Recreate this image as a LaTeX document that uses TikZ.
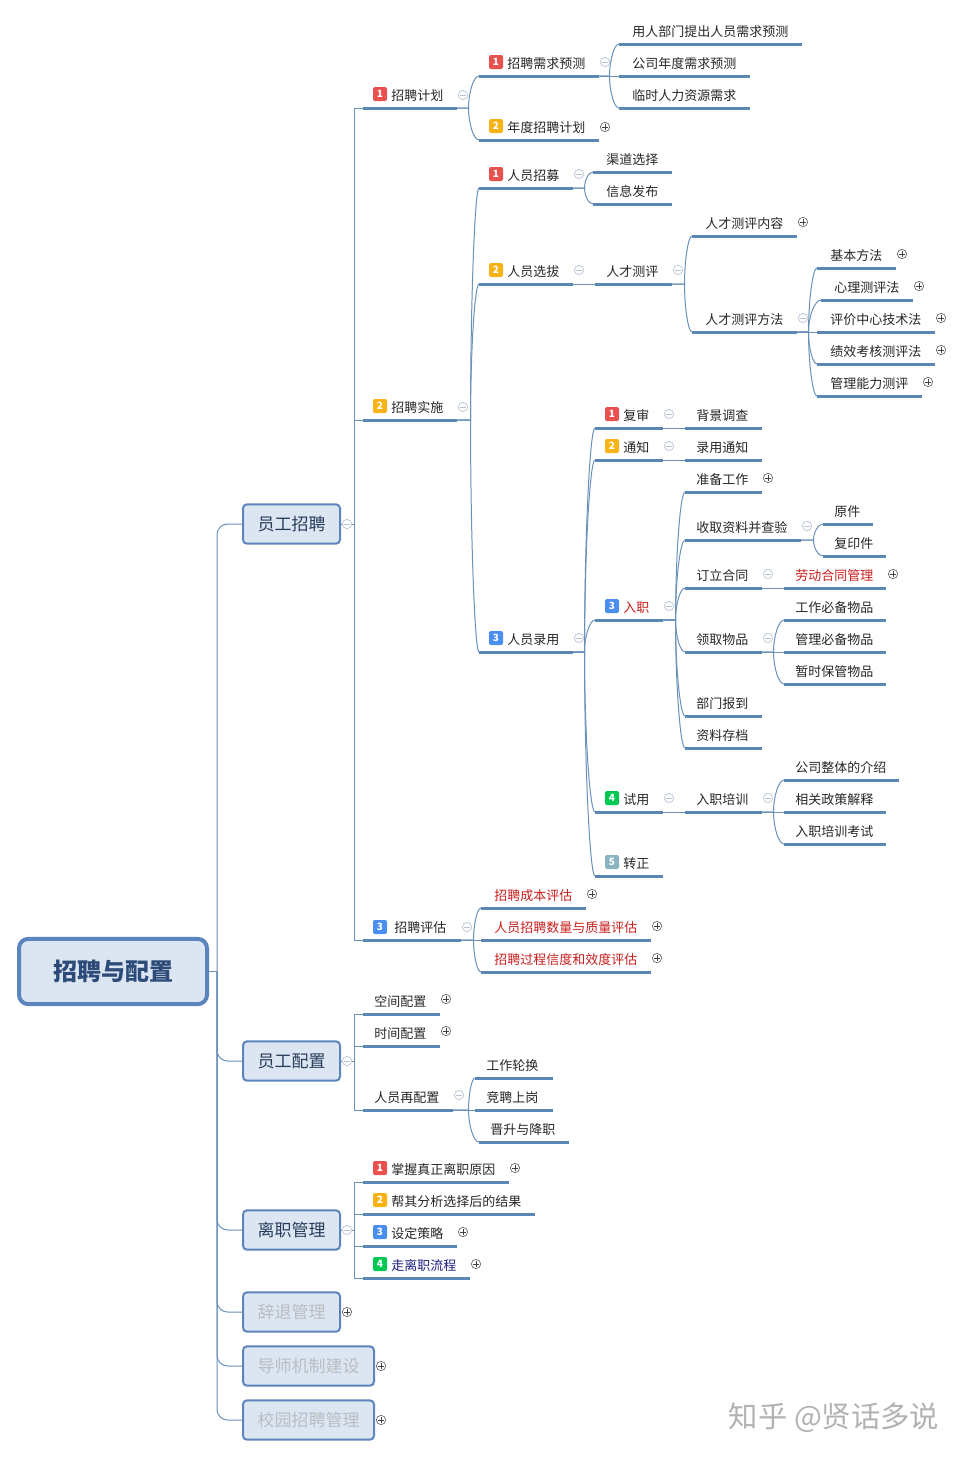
\documentclass[tikz,border=0pt]{standalone}
\usetikzlibrary{calc}
\usepackage{xcolor}
\usepackage{fontspec}
\setmainfont{Noto Sans CJK SC}
\newdimen\unitpx
\unitpx=0.75pt
\definecolor{barblue}{RGB}{91,135,181}
\definecolor{wireblue}{RGB}{105,145,185}
\definecolor{boxfill}{RGB}{220,230,242}
\definecolor{boxline}{RGB}{92,133,190}
\definecolor{titleblue}{RGB}{45,75,120}
\definecolor{subblue}{RGB}{40,60,90}
\definecolor{fadetext}{RGB}{186,189,194}
\definecolor{bred}{RGB}{233,81,79}
\definecolor{borange}{RGB}{248,180,23}
\definecolor{bblue}{RGB}{74,142,240}
\definecolor{bgreen}{RGB}{0,200,83}
\definecolor{bteal}{RGB}{138,180,192}
\definecolor{redtext}{RGB}{200,30,30}
\definecolor{navytext}{RGB}{30,30,130}
\definecolor{minusgray}{RGB}{185,195,212}
\tikzset{
  wire/.style={draw=wireblue,line width=0.75pt},
  barline/.style={draw=barblue,line width=2.25pt},
  branch/.style={to path={-- ++(#1,0) coordinate (j) .. controls ($(j)!0.5!(j |- \tikztotarget)$) and ($(j |- \tikztotarget)!0.5!(\tikztotarget)$) .. (\tikztotarget)}},
  topic/.style 2 args={anchor=south west,inner sep=0pt,text width=#1*0.75pt,minimum height=19.5pt,
    text height=0.95em,text depth=0.05em,align=left,text=black!85,font=\fontsize{9.75}{11}\selectfont,
    execute at begin node={\hspace*{#2\unitpx}},
    append after command={(\tikzlastnode.south west) edge[barline] (\tikzlastnode.south east)}},
  badge/.style={rounded corners=1.5pt,fill=#1,text=white,minimum size=10.5pt,inner sep=0pt,
    font=\fontsize{7.5}{8}\selectfont\bfseries},
  rootbox/.style={draw=boxline,fill=boxfill,line width=3pt,rounded corners=7pt,minimum width=141pt,minimum height=49pt,
    text=titleblue,font=\fontsize{18}{20}\selectfont\bfseries},
  mainbox/.style={draw=boxline,fill=boxfill,line width=1.5pt,rounded corners=3pt,minimum width=#1*0.75pt,minimum height=29.5pt,
    inner sep=0pt,text=subblue,font=\fontsize{12.75}{14}\selectfont},
  minusmark/.style={circle,draw=minusgray,fill=white,line width=0.5pt,minimum size=7pt,inner sep=0pt,
    path picture={\draw[minusgray] ([xshift=-2.2pt]path picture bounding box.center) -- ([xshift=2.2pt]path picture bounding box.center);}},
  plusmark/.style={circle,draw=black!60,fill=white,line width=0.5pt,minimum size=7pt,inner sep=0pt,
    path picture={\draw[black!75] ([xshift=-2.2pt]path picture bounding box.center) -- ([xshift=2.2pt]path picture bounding box.center)
      ([yshift=-2.2pt]path picture bounding box.center) -- ([yshift=2.2pt]path picture bounding box.center);}},
}
\begin{document}
\begin{tikzpicture}[x=0.75pt,y=0.75pt,yscale=-1,xscale=1]
\useasboundingbox (0,0) rectangle (962,1457);

% Main boxes
\node[rootbox] (root) at (113,971.5) {招聘与配置};
\node[mainbox=97] (yuangong) at (291.5,524) {员工招聘};
\node[mainbox=97] (peizhi) at (291.5,1061) {员工配置};
\node[mainbox=97] (lizhi) at (291.5,1230) {离职管理};
\node[mainbox=97,text=fadetext] (citui) at (291.5,1312) {辞退管理};
\node[mainbox=131,text=fadetext] (daoshi) at (308.5,1366) {导师机制建设};
\node[mainbox=131,text=fadetext] (xiaoyuan) at (308.5,1420) {校园招聘管理};

% Second level
\node[topic={93}{28}] (jihua) at (363,108) {招聘计划};
\node[topic={93}{28}] (shishi) at (363,420) {招聘实施};
\node[topic={97}{31}] (pinggu) at (363,940) {招聘评估};
\node[topic={76}{11}] (kongjian) at (363,1014) {空间配置};
\node[topic={76}{11}] (shijian) at (363,1046) {时间配置};
\node[topic={89}{11}] (zaipeizhi) at (363,1110) {人员再配置};
\node[topic={145}{28}] (yuanyin) at (363,1182) {掌握真正离职原因};
\node[topic={171}{28}] (jieguo) at (363,1214) {帮其分析选择后的结果};
\node[topic={93}{28}] (celue) at (363,1246) {设定策略};
\node[topic={106}{28},text=navytext] (liucheng) at (363,1278) {走离职流程};

% Third level
\node[topic={119}{28}] (xuqiu) at (479,76) {招聘需求预测};
\node[topic={119}{28}] (niandu) at (479,140) {年度招聘计划};
\node[topic={93}{28}] (zhaomu) at (479,188) {人员招募};
\node[topic={93}{28}] (xuanba) at (479,284) {人员选拔};
\node[topic={93}{28}] (luyong) at (479,652) {人员录用};
\node[topic={104}{13},text=redtext] (chengben) at (481,908) {招聘成本评估};
\node[topic={169}{13},text=redtext] (shuliang) at (481,940) {人员招聘数量与质量评估};
\node[topic={169}{13},text=redtext] (xindu) at (481,972) {招聘过程信度和效度评估};
\node[topic={77}{11}] (lunhuan) at (475,1078) {工作轮换};
\node[topic={77}{11}] (jingpin) at (475,1110) {竞聘上岗};
\node[topic={89}{11}] (jiangzhi) at (479,1142) {晋升与降职};

% Fourth level
\node[topic={182}{13}] (bumen) at (619,44) {用人部门提出人员需求预测};
\node[topic={130}{13}] (gongsi) at (619,76) {公司年度需求预测};
\node[topic={130}{13}] (linshi) at (619,108) {临时人力资源需求};
\node[topic={78}{13}] (qudao) at (593,172) {渠道选择};
\node[topic={78}{13}] (xinxi) at (593,204) {信息发布};
\node[topic={76}{11}] (ceping) at (595,284) {人才测评};
\node[topic={67}{28}] (fushen) at (595,428) {复审};
\node[topic={67}{28}] (tongzhi) at (595,460) {通知};
\node[topic={67}{28},text=redtext] (ruzhi) at (595,620) {入职};
\node[topic={67}{28}] (shiyong) at (595,812) {试用};
\node[topic={67}{28}] (zhuanzheng) at (595,876) {转正};

% Fifth level
\node[topic={104}{13}] (neirong) at (692,236) {人才测评内容};
\node[topic={104}{13}] (fangfa) at (692,332) {人才测评方法};
\node[topic={76}{11}] (beijing) at (685,428) {背景调查};
\node[topic={76}{11}] (luyongtz) at (685,460) {录用通知};
\node[topic={76}{11}] (zhunbei) at (685,492) {准备工作};
\node[topic={115}{11}] (ziliao) at (685,540) {收取资料并查验};
\node[topic={76}{11}] (hetong) at (685,588) {订立合同};
\node[topic={76}{11}] (wupin) at (685,652) {领取物品};
\node[topic={76}{11}] (baodao) at (685,716) {部门报到};
\node[topic={76}{11}] (cundang) at (685,748) {资料存档};
\node[topic={76}{11}] (peixun) at (685,812) {入职培训};

% Sixth level
\node[topic={78}{13}] (jiben) at (817,268) {基本方法};
\node[topic={91}{13}] (xinli) at (821,300) {心理测评法};
\node[topic={117}{13}] (zhongxin) at (817,332) {评价中心技术法};
\node[topic={117}{13}] (jixiao) at (817,364) {绩效考核测评法};
\node[topic={104}{13}] (nengli) at (817,396) {管理能力测评};
\node[topic={49}{11}] (yuanjian) at (823,524) {原件};
\node[topic={62}{11}] (fuyin) at (823,556) {复印件};
\node[topic={101}{11},text=redtext] (laodong) at (784,588) {劳动合同管理};
\node[topic={101}{11}] (bibei) at (784,620) {工作必备物品};
\node[topic={101}{11}] (guanli) at (784,652) {管理必备物品};
\node[topic={101}{11}] (baoguan) at (784,684) {暂时保管物品};
\node[topic={114}{11}] (zhengti) at (784,780) {公司整体的介绍};
\node[topic={101}{11}] (zhengce) at (784,812) {相关政策解释};
\node[topic={101}{11}] (kaoshi) at (784,844) {入职培训考试};

% Root connectors
\coordinate (rootj) at (217,971.5);
\draw[wire] (root.east) -- (rootj);
\draw[wire,rounded corners=8pt] (rootj) |- (yuangong.west);
\draw[wire,rounded corners=8pt] (rootj) |- (peizhi.west);
\draw[wire,rounded corners=8pt] (rootj) |- (lizhi.west);
\draw[wire,rounded corners=8pt] (rootj) |- (citui.west);
\draw[wire,rounded corners=8pt] (rootj) |- (daoshi.west);
\draw[wire,rounded corners=8pt] (rootj) |- (xiaoyuan.west);

% Square connectors
\draw[wire] (yuangong.east) -- ++(13,0) |- (jihua.south west);
\draw[wire] (yuangong.east) -- ++(13,0) |- (shishi.south west);
\draw[wire] (yuangong.east) -- ++(13,0) |- (pinggu.south west);
\draw[wire] (peizhi.east) -- ++(13,0) |- (kongjian.south west);
\draw[wire] (peizhi.east) -- ++(13,0) |- (shijian.south west);
\draw[wire] (peizhi.east) -- ++(13,0) |- (zaipeizhi.south west);
\draw[wire] (lizhi.east) -- ++(13,0) |- (yuanyin.south west);
\draw[wire] (lizhi.east) -- ++(13,0) |- (jieguo.south west);
\draw[wire] (lizhi.east) -- ++(13,0) |- (celue.south west);
\draw[wire] (lizhi.east) -- ++(13,0) |- (liucheng.south west);

% Curved connectors
\draw[wire] (jihua.south east) to[branch=12] (xuqiu.south west);
\draw[wire] (jihua.south east) to[branch=12] (niandu.south west);
\draw[wire] (xuqiu.south east) to[branch=11] (bumen.south west);
\draw[wire] (xuqiu.south east) -- (gongsi.south west);
\draw[wire] (xuqiu.south east) to[branch=11] (linshi.south west);
\draw[wire] (shishi.south east) to[branch=14] (zhaomu.south west);
\draw[wire] (shishi.south east) to[branch=14] (xuanba.south west);
\draw[wire] (shishi.south east) to[branch=14] (luyong.south west);
\draw[wire] (zhaomu.south east) to[branch=12] (qudao.south west);
\draw[wire] (zhaomu.south east) to[branch=12] (xinxi.south west);
\draw[wire] (xuanba.south east) -- (ceping.south west);
\draw[wire] (ceping.south east) to[branch=13] (neirong.south west);
\draw[wire] (ceping.south east) to[branch=13] (fangfa.south west);
\draw[wire] (fangfa.south east) to[branch=12] (jiben.south west);
\draw[wire] (fangfa.south east) to[branch=12] (xinli.south west);
\draw[wire] (fangfa.south east) -- (zhongxin.south west);
\draw[wire] (fangfa.south east) to[branch=12] (jixiao.south west);
\draw[wire] (fangfa.south east) to[branch=12] (nengli.south west);
\draw[wire] (luyong.south east) to[branch=12] (fushen.south west);
\draw[wire] (luyong.south east) to[branch=12] (tongzhi.south west);
\draw[wire] (luyong.south east) to[branch=12] (ruzhi.south west);
\draw[wire] (luyong.south east) to[branch=12] (shiyong.south west);
\draw[wire] (luyong.south east) to[branch=12] (zhuanzheng.south west);
\draw[wire] (fushen.south east) -- (beijing.south west);
\draw[wire] (tongzhi.south east) -- (luyongtz.south west);
\draw[wire] (ruzhi.south east) to[branch=13] (zhunbei.south west);
\draw[wire] (ruzhi.south east) to[branch=13] (ziliao.south west);
\draw[wire] (ruzhi.south east) to[branch=13] (hetong.south west);
\draw[wire] (ruzhi.south east) to[branch=13] (wupin.south west);
\draw[wire] (ruzhi.south east) to[branch=13] (baodao.south west);
\draw[wire] (ruzhi.south east) to[branch=13] (cundang.south west);
\draw[wire] (ziliao.south east) to[branch=13] (yuanjian.south west);
\draw[wire] (ziliao.south east) to[branch=13] (fuyin.south west);
\draw[wire] (hetong.south east) -- (laodong.south west);
\draw[wire] (wupin.south east) to[branch=12] (bibei.south west);
\draw[wire] (wupin.south east) -- (guanli.south west);
\draw[wire] (wupin.south east) to[branch=12] (baoguan.south west);
\draw[wire] (shiyong.south east) -- (peixun.south west);
\draw[wire] (peixun.south east) to[branch=12] (zhengti.south west);
\draw[wire] (peixun.south east) -- (zhengce.south west);
\draw[wire] (peixun.south east) to[branch=12] (kaoshi.south west);
\draw[wire] (pinggu.south east) to[branch=13] (chengben.south west);
\draw[wire] (pinggu.south east) -- (shuliang.south west);
\draw[wire] (pinggu.south east) to[branch=13] (xindu.south west);
\draw[wire] (zaipeizhi.south east) to[branch=16] (lunhuan.south west);
\draw[wire] (zaipeizhi.south east) -- (jingpin.south west);
\draw[wire] (zaipeizhi.south east) to[branch=16] (jiangzhi.south west);

% Badges
\node[badge=bred] (b1) at (380,94) {1};
\node[badge=borange] (b2) at (380,406) {2};
\node[badge=bblue] (b3) at (380,927) {3};
\node[badge=bred] (b4) at (496,62) {1};
\node[badge=borange] (b5) at (496,126) {2};
\node[badge=bred] (b6) at (496,174) {1};
\node[badge=borange] (b7) at (496,270) {2};
\node[badge=bblue] (b8) at (496,638) {3};
\node[badge=bred] (b9) at (612,414) {1};
\node[badge=borange] (b10) at (612,446) {2};
\node[badge=bblue] (b11) at (612,606) {3};
\node[badge=bgreen] (b12) at (612,798) {4};
\node[badge=bteal] (b13) at (612,862) {5};
\node[badge=bred] (b14) at (380,1168) {1};
\node[badge=borange] (b15) at (380,1200) {2};
\node[badge=bblue] (b16) at (380,1232) {3};
\node[badge=bgreen] (b17) at (380,1264) {4};

% Collapse marks
\node[minusmark] (m1) at (347,524) {};
\node[minusmark] (m2) at (347,1061) {};
\node[minusmark] (m3) at (347,1230) {};
\node[minusmark] (m4) at (463,95) {};
\node[minusmark] (m5) at (463,407) {};
\node[minusmark] (m6) at (467,927) {};
\node[minusmark] (m7) at (605,62) {};
\node[minusmark] (m8) at (579,174) {};
\node[minusmark] (m9) at (579,270) {};
\node[minusmark] (m10) at (579,638) {};
\node[minusmark] (m11) at (678,270) {};
\node[minusmark] (m12) at (803,318) {};
\node[minusmark] (m13) at (669,414) {};
\node[minusmark] (m14) at (669,446) {};
\node[minusmark] (m15) at (669,606) {};
\node[minusmark] (m16) at (669,798) {};
\node[minusmark] (m17) at (807,526) {};
\node[minusmark] (m18) at (768,574) {};
\node[minusmark] (m19) at (768,638) {};
\node[minusmark] (m20) at (768,798) {};
\node[minusmark] (m21) at (459,1095) {};

% Expand marks
\node[plusmark] (p1) at (347,1312) {};
\node[plusmark] (p2) at (381,1366) {};
\node[plusmark] (p3) at (381,1420) {};
\node[plusmark] (p4) at (605,127) {};
\node[plusmark] (p5) at (803,222) {};
\node[plusmark] (p6) at (902,254) {};
\node[plusmark] (p7) at (919,286) {};
\node[plusmark] (p8) at (941,318) {};
\node[plusmark] (p9) at (941,350) {};
\node[plusmark] (p10) at (928,382) {};
\node[plusmark] (p11) at (768,478) {};
\node[plusmark] (p12) at (893,574) {};
\node[plusmark] (p13) at (592,894) {};
\node[plusmark] (p14) at (657,926) {};
\node[plusmark] (p15) at (657,958) {};
\node[plusmark] (p16) at (446,999) {};
\node[plusmark] (p17) at (446,1031) {};
\node[plusmark] (p18) at (515,1168) {};
\node[plusmark] (p19) at (463,1232) {};
\node[plusmark] (p20) at (476,1264) {};

% Text Node
\node[text=black!30,font=\fontsize{22}{24}\selectfont] (mark) at (834,1418) {知乎 @贤话多说};

\end{tikzpicture}
\end{document}
